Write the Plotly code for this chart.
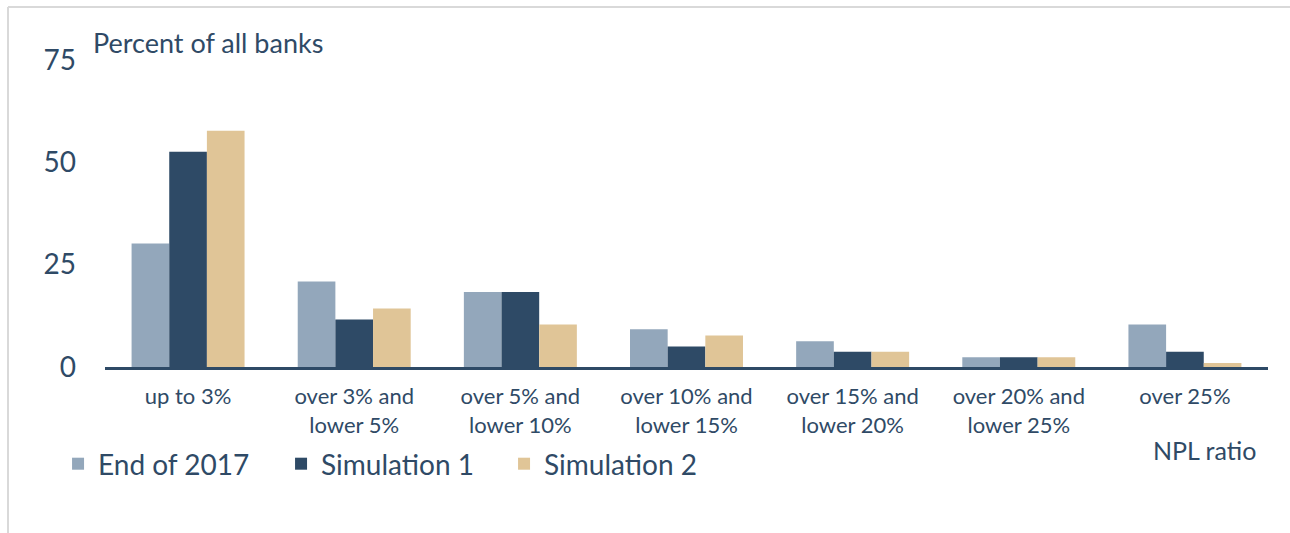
import plotly.graph_objects as go

categories = ["up to 3%", "over 3% and<br>lower 5%", "over 5% and<br>lower 10%",
              "over 10% and<br>lower 15%", "over 15% and<br>lower 20%",
              "over 20% and<br>lower 25%", "over 25%"]
end_2017 = [30.2, 20.9, 18.3, 9.2, 6.3, 2.4, 10.4]
simulation_1 = [52.6, 11.6, 18.3, 5.0, 3.7, 2.4, 3.7]
simulation_2 = [57.7, 14.3, 10.4, 7.7, 3.7, 2.4, 1.0]
y_ticks = [0, 25, 50, 75]

TEXT = "#2F4A66"
FONT = "Lato"
W, H = 1290, 533
L, R, T, B = 105, 1268, 60, 367

def px(x):
    return (x - L) / (R - L)

def py(y):
    return (B - y) / (B - T)

fig = go.Figure()
fig.add_bar(x=categories, y=end_2017, name="End of 2017", marker_color="#93A7BB",
            marker_line_width=0)
fig.add_bar(x=categories, y=simulation_1, name="Simulation 1", marker_color="#2E4A66",
            marker_line_width=0)
fig.add_bar(x=categories, y=simulation_2, name="Simulation 2", marker_color="#E0C597",
            marker_line_width=0)

fig.update_layout(
    width=W, height=H,
    margin=dict(l=L, r=W - R, t=T, b=H - B, pad=0, autoexpand=False),
    paper_bgcolor="white", plot_bgcolor="white",
    barmode="group", bargap=0.32, bargroupgap=0,
    font=dict(family=FONT, color=TEXT),
    showlegend=True,
    legend=dict(orientation="h", xref="container", yref="container",
                x=0.045, y=1 - 464 / H, xanchor="left", yanchor="middle",
                entrywidth=178, entrywidthmode="pixels",
                font=dict(size=28, color=TEXT, family=FONT),
                bgcolor="rgba(0,0,0,0)", itemclick=False),
    xaxis=dict(showgrid=False, showline=True, linecolor="#2E4A66", linewidth=3,
               ticks="", tickfont=dict(size=22, color=TEXT, family=FONT),
               ticklabelstandoff=8, fixedrange=True, automargin=False),
    yaxis=dict(range=[0, 75], tickvals=y_ticks, showgrid=False, zeroline=False,
               showline=False, ticks="", tickfont=dict(size=28, color=TEXT, family=FONT),
               ticklabelstandoff=28, fixedrange=True, automargin=False),
    annotations=[
        dict(text="Percent of all banks", xref="paper", yref="paper",
             x=px(91), y=py(43), xanchor="left", yanchor="middle", showarrow=False,
             font=dict(size=27, color=TEXT, family=FONT)),
        dict(text="NPL ratio", xref="paper", yref="paper",
             x=px(1258), y=py(450), xanchor="right", yanchor="middle", showarrow=False,
             font=dict(size=25, color=TEXT, family=FONT)),
    ],
    shapes=[
        dict(type="line", xref="paper", yref="paper", x0=px(8), x1=px(1295),
             y0=py(7), y1=py(7), line=dict(color="#D9D9D9", width=2)),
        dict(type="line", xref="paper", yref="paper", x0=px(8), x1=px(8),
             y0=py(7), y1=py(540), line=dict(color="#D9D9D9", width=2)),
    ],
)

fig.write_html("out.html", config={"displayModeBar": False},
               post_script="document.body.style.margin='0';document.body.style.overflow='hidden';")
